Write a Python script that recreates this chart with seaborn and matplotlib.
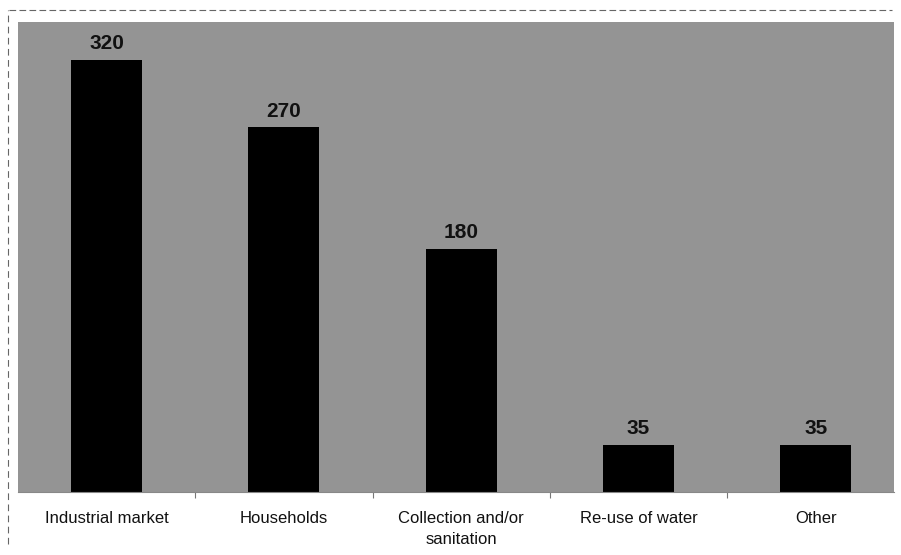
import matplotlib
matplotlib.use("Agg")
import matplotlib.pyplot as plt
import seaborn as sns
import pandas as pd
import numpy as np

categories = ["Industrial market", "Households", "Collection and/or\nsanitation",
              "Re-use of water", "Other"]
values = [320, 270, 180, 35, 35]

df = pd.DataFrame({"category": categories, "value": values})

sns.set_theme(style="white")
plt.rcParams["font.family"] = ["Liberation Sans", "DejaVu Sans"]

fig = plt.figure(figsize=(9.01, 5.55), dpi=100)
ax = fig.add_axes([0.020, 0.1135, 0.972, 0.847])
ax.set_facecolor("#949494")

sns.barplot(data=df, x="category", y="value", color="black", width=0.4,
            saturation=1, edgecolor="black", linewidth=0, ax=ax)

for i, v in enumerate(values):
    ax.text(i, v + 5, str(v), ha="center", va="bottom", fontsize=15,
            fontweight="bold", color="#111111")

ax.set_xlim(-0.5, 4.44)
ax.set_ylim(0, 348)
ax.set_xlabel("")
ax.set_ylabel("")
ax.set_yticks([])
ax.tick_params(axis="x", length=0, pad=14, labelsize=12)
for lab in ax.get_xticklabels():
    lab.set_fontweight("medium")
    lab.set_color("#111111")
    lab.set_linespacing(1.45)

# category boundary ticks
ax.set_xticks(np.arange(0.5, 4.5, 1.0), minor=True)
ax.tick_params(axis="x", which="minor", length=4, color="#777777", width=0.8,
               bottom=True)

for side in ["top", "right", "left"]:
    ax.spines[side].set_visible(False)
ax.spines["bottom"].set_color("#888888")
ax.spines["bottom"].set_linewidth(0.8)

# outer frame lines
fig.add_artist(plt.Line2D([0.01, 0.99], [0.982, 0.982], color="#666666",
                          lw=0.8, ls=(0, (6, 3))))
fig.add_artist(plt.Line2D([0.009, 0.009], [0.02, 0.982], color="#666666",
                          lw=0.8, ls=(0, (6, 4))))

fig.savefig("out.png", dpi=100)
